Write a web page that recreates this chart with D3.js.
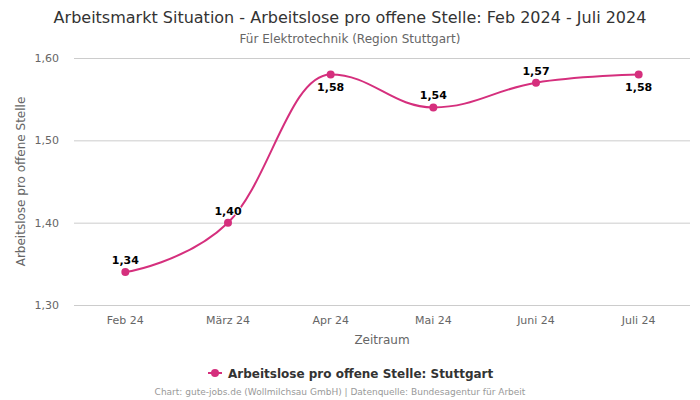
<!DOCTYPE html>
<html><head><meta charset="utf-8">
<script src="https://cdn.jsdelivr.net/npm/d3@7"></script>
<style>body{margin:0;background:#fff;font-family:"DejaVu Sans",sans-serif;}</style>
</head><body><svg id="c" width="700" height="400"></svg>
<script>
const categories = ["Feb 24","März 24","Apr 24","Mai 24","Juni 24","Juli 24"];
const values = [1.34,1.40,1.58,1.54,1.57,1.58];
const labelPos = ["above","above","below","above","above","below"];
const yTicks = [1.30,1.40,1.50,1.60];
const title = "Arbeitsmarkt Situation - Arbeitslose pro offene Stelle: Feb 2024 - Juli 2024";
const subtitle = "Für Elektrotechnik (Region Stuttgart)";
const seriesName = "Arbeitslose pro offene Stelle: Stuttgart";
const color = "#d52f7d";
const fmt = v => d3.format(".2f")(v).replace(".", ",");

const svg = d3.select("#c");
const L = 74, R = 690, T = 58, B = 305;
const x = d3.scaleBand().domain(categories).range([L, R]);
const y = d3.scaleLinear().domain([1.30, 1.60]).range([B, T]);

svg.append("text").attr("x",350).attr("y",22.5).attr("text-anchor","middle")
  .attr("font-size",16).attr("fill","#333").text(title);
svg.append("text").attr("x",350).attr("y",43).attr("text-anchor","middle")
  .attr("font-size",12).attr("fill","#666").text(subtitle);

const ya = svg.append("g").attr("transform",`translate(${L},0)`)
  .call(d3.axisLeft(y).tickValues(yTicks).tickSize(-(R-L)).tickFormat(fmt));
ya.select(".domain").remove();
ya.selectAll("line").attr("stroke","#ccc");
ya.selectAll("text").attr("x",-15).attr("fill","#666").attr("font-size",11)
  .attr("font-family","DejaVu Sans");

const xa = svg.append("g").attr("transform",`translate(0,${B})`)
  .call(d3.axisBottom(x).tickSize(0));
xa.select(".domain").remove();
xa.selectAll("text").attr("dy",0).attr("y",19).attr("fill","#666").attr("font-size",11)
  .attr("font-family","DejaVu Sans");

svg.append("text").attr("transform",`translate(25,${(T+B)/2}) rotate(-90)`)
  .attr("text-anchor","middle").attr("font-size",12).attr("fill","#666")
  .text("Arbeitslose pro offene Stelle");
svg.append("text").attr("x",(L+R)/2).attr("y",344).attr("text-anchor","middle")
  .attr("font-size",12).attr("fill","#666").text("Zeitraum");

// Highcharts-style spline
const pts = values.map((v,i)=>({px:x(categories[i])+x.bandwidth()/2, py:y(v)}));
function splinePath(p){
  const path = d3.path();
  path.moveTo(p[0].px,p[0].py);
  const s=1.5, den=s+1;
  for(let i=1;i<p.length;i++){
    const pt=p[i], last=p[i-1], next=p[i+1];
    let lcx,lcy,rcx,rcy;
    if(next){
      lcx=(s*pt.px+last.px)/den; lcy=(s*pt.py+last.py)/den;
      rcx=(s*pt.px+next.px)/den; rcy=(s*pt.py+next.py)/den;
      let corr=0;
      if(rcx!==lcx) corr=((rcy-lcy)*(rcx-pt.px))/(rcx-lcx)+pt.py-rcy;
      lcy+=corr; rcy+=corr;
      if(lcy>last.py&&lcy>pt.py){lcy=Math.max(last.py,pt.py);rcy=2*pt.py-lcy;}
      else if(lcy<last.py&&lcy<pt.py){lcy=Math.min(last.py,pt.py);rcy=2*pt.py-lcy;}
      if(rcy>next.py&&rcy>pt.py){rcy=Math.max(next.py,pt.py);lcy=2*pt.py-rcy;}
      else if(rcy<next.py&&rcy<pt.py){rcy=Math.min(next.py,pt.py);lcy=2*pt.py-rcy;}
      pt.rcx=rcx; pt.rcy=rcy;
    }
    path.bezierCurveTo(last.rcx??last.px, last.rcy??last.py, lcx??pt.px, lcy??pt.py, pt.px, pt.py);
  }
  return path.toString();
}
svg.append("path").attr("d",splinePath(pts)).attr("fill","none")
  .attr("stroke",color).attr("stroke-width",2);

svg.selectAll("circle.pt").data(values).join("circle").attr("class","pt")
  .attr("cx",(d,i)=>x(categories[i])+x.bandwidth()/2).attr("cy",d=>y(d))
  .attr("r",4).attr("fill",color);

svg.selectAll("text.lbl").data(values).join("text").attr("class","lbl")
  .attr("x",(d,i)=>x(categories[i])+x.bandwidth()/2)
  .attr("y",(d,i)=>y(d)+(labelPos[i]==="above"?-8:17))
  .attr("text-anchor","middle").attr("font-size",11).attr("font-weight","bold")
  .attr("fill","#000").attr("stroke","#fff").attr("stroke-width",2).attr("paint-order","stroke")
  .text(d=>fmt(d));

// legend
const lg = svg.append("g");
lg.append("line").attr("x1",208).attr("x2",222).attr("y1",373).attr("y2",373)
  .attr("stroke",color).attr("stroke-width",2);
lg.append("circle").attr("cx",215).attr("cy",373).attr("r",4).attr("fill",color);
lg.append("text").attr("x",228).attr("y",377.5).attr("font-size",12).attr("font-weight","bold")
  .attr("fill","#333").text(seriesName);

svg.append("text").attr("x",340).attr("y",395).attr("text-anchor","middle")
  .attr("font-size",9).attr("fill","#999")
  .text("Chart: gute-jobs.de (Wollmilchsau GmbH) | Datenquelle: Bundesagentur für Arbeit");
</script></body></html>
